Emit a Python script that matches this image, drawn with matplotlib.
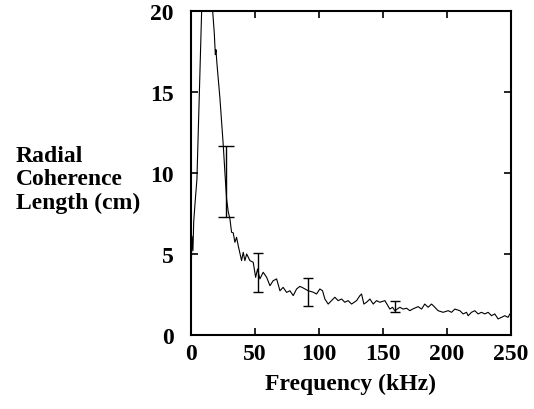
import matplotlib
matplotlib.use("Agg")
import matplotlib.pyplot as plt

# Coherence length spectrum
freq_khz = [0.4, 1.0, 1.8, 2.4, 3.5, 4.9, 6.7, 8.6, 10.5, 13.0, 15.5, 17.2, 18.5,
            19.3, 19.8, 20.5, 22.9, 25.5, 26.8, 28.1, 29.4, 30.7, 32.0, 33.3,
            34.6, 35.9, 37.2, 39.8, 41.1, 42.4, 43.8, 46.3, 48.9, 50.8, 52.3,
            54.1, 56.7, 59.4, 62.0, 64.5, 67.2, 69.8, 72.3, 75.0, 77.6, 80.2,
            82.8, 85.4, 88.0, 91.9, 95.8, 98.4, 101.0, 103.1, 104.9, 107.5,
            110.1, 112.7, 115.3, 118.0, 120.5, 123.1, 125.8, 129.7, 132.3,
            133.6, 135.4, 137.5, 140.1, 142.7, 145.3, 147.9, 151.8, 155.7,
            157.8, 159.6, 163.5, 166.1, 168.8, 171.3, 174.0, 177.8, 180.5,
            183.0, 185.6, 188.3, 190.9, 193.4, 197.3, 201.3, 203.9, 206.5,
            210.4, 213.0, 215.6, 216.9, 219.5, 222.1, 224.7, 227.3, 229.9,
            232.5, 235.2, 237.7, 240.3, 243.0, 245.5, 248.1, 249.5, 250.0]
coh_len = [3.8, 6.1, 5.2, 7.0, 8.2, 9.6, 14.6, 20.0, 24.0, 27.0, 24.0, 20.0, 18.6,
           17.3, 17.6, 16.8, 14.6, 11.7, 10.0, 8.4, 7.6, 7.16, 6.34, 6.3,
           5.72, 6.03, 5.51, 4.59, 5.10, 4.59, 5.0, 4.59, 4.49, 3.56, 4.07,
           3.46, 3.87, 3.56, 3.04, 3.35, 3.46, 2.73, 2.94, 2.63, 2.73, 2.43,
           2.84, 3.0, 2.9, 2.73, 2.64, 2.53, 2.84, 2.73, 2.22, 1.91,
           2.12, 2.33, 2.12, 2.22, 2.02, 2.12, 1.91, 2.12, 2.43,
           2.53, 1.91, 2.02, 2.22, 1.91, 2.12, 2.02, 2.12, 1.60,
           1.71, 1.50, 1.71, 1.60, 1.65, 1.50, 1.62, 1.75, 1.60,
           1.91, 1.71, 1.91, 1.71, 1.50, 1.40, 1.50, 1.40, 1.60,
           1.50, 1.30, 1.40, 1.19, 1.40, 1.50, 1.30, 1.40, 1.30,
           1.40, 1.19, 1.30, 0.99, 1.09, 1.19, 1.09, 1.30, 1.25]

# error bars: position, lower and upper ends
err_x = [28.0, 52.6, 91.9, 160.1]
err_lo = [7.27, 2.63, 1.81, 1.40]
err_hi = [11.65, 5.08, 3.54, 2.10]
err_caps = [6.0, 3.6, 3.4, 3.4]

plt.rcParams['font.family'] = ['Liberation Serif', 'DejaVu Serif']
plt.rcParams['font.weight'] = 'bold'
plt.rcParams['font.size'] = 17

fig = plt.figure(figsize=(5.34, 4.10), dpi=100)
ax = fig.add_axes([0.357, 0.1805, 0.599, 0.7905])

ax.plot(freq_khz, coh_len, color='black', lw=0.8)
for x, lo, hi, cap in zip(err_x, err_lo, err_hi, err_caps):
    mid = (lo + hi) / 2
    ax.errorbar([x], [mid], yerr=[[mid - lo], [hi - mid]], fmt='none',
                ecolor='black', elinewidth=1.0, capsize=cap, capthick=1.0)

ax.set_xlim(0, 250)
ax.set_ylim(0, 20)
ax.set_xticks([0, 50, 100, 150, 200, 250])
ax.set_yticks([0, 5, 10, 15, 20])
ax.tick_params(direction='in', length=5, width=1.2, top=True, right=True)
ax.tick_params(axis='x', pad=6)
ax.tick_params(axis='y', pad=12)
for s in ax.spines.values():
    s.set_linewidth(1.5)

fig.text(0.03, 0.562, "Radial\nCoherence\nLength (cm)", ha='left', va='center',
         linespacing=1.15, fontweight='bold', fontsize=17)
fig.text(0.657, 0.062, "Frequency (kHz)", ha='center', va='center',
         fontweight='bold', fontsize=17)

fig.savefig("out.png", dpi=100)
